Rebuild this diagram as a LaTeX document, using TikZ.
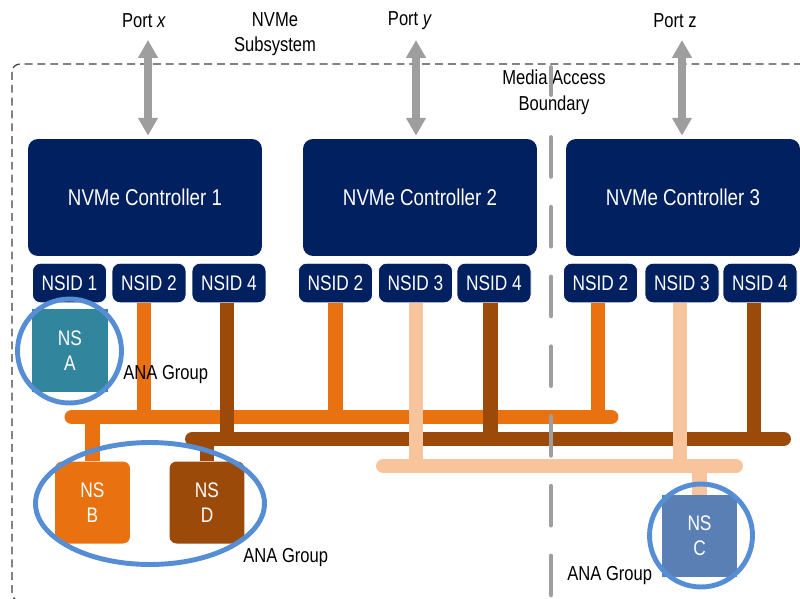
\documentclass[tikz,border=0pt]{standalone}
\usepackage{fontspec}
\setmainfont{Liberation Sans}[FakeStretch=0.82]
\usepackage{tikz}
\usetikzlibrary{arrows.meta,calc}
\definecolor{ctrlblue}{RGB}{0,32,96}
\definecolor{nsorange}{RGB}{233,113,16}
\definecolor{nsbrown}{RGB}{156,74,9}
\definecolor{nspeach}{RGB}{248,196,156}
\definecolor{nsteal}{RGB}{49,133,156}
\definecolor{nsblue}{RGB}{89,127,181}
\definecolor{ringblue}{RGB}{85,142,213}
\definecolor{portgray}{RGB}{158,158,158}
\definecolor{boxgray}{RGB}{64,64,64}

\begin{document}
\begin{tikzpicture}[x=0.02cm, y=-0.02cm,
  ctrl/.style={fill=ctrlblue, rounded corners=0.2cm, minimum width=4.68cm,
    minimum height=2.34cm, inner sep=0pt, text=white,
    font=\fontsize{13}{15}\selectfont},
  nsid/.style={fill=ctrlblue, draw=white, thin, rounded corners=0.16cm,
    minimum width=1.48cm, minimum height=0.79cm, inner sep=0pt, text=white,
    font=\fontsize{12}{14}\selectfont},
  nsbox/.style={minimum width=1.5cm, minimum height=1.64cm, inner sep=0pt,
    align=center, text=white, font=\fontsize{12}{14}\selectfont},
  lbl/.style={inner sep=0pt, align=center, font=\fontsize{11.5}{14.5}\selectfont},
  bus/.style={line width=8.5pt, line cap=round},
  drop/.style={line width=8.5pt},
  port/.style={draw=portgray, line width=4pt,
    {Triangle[width=10.8pt,length=10.2pt]}-{Triangle[width=10.8pt,length=10.2pt]}},
  ring/.style={draw=ringblue, line width=2.8pt},
  media/.style={draw=portgray, line width=2.8pt, line cap=round}]

  \useasboundingbox (0,0) rectangle (800,598);

  % ---- subsystem boundary ----
  \draw[boxgray, line width=0.7pt, dash pattern=on 4.5pt off 2.8pt,
    rounded corners=0.16cm] (12,64) rectangle (822,601);

  % ---- labels on top ----
  \node[lbl] (portx) at (144,21) {Port \textit{x}};
  \node[lbl] (porty) at (410,21) {Port \textit{y}};
  \node[lbl] (portz) at (675,21) {Port z};
  \node[lbl] (subsys) at (275,34) {NVMe\\Subsystem};
  \node[lbl] (mab) at (554,92.5) {Media Access\\Boundary};

  % ---- controllers ----
  \node[ctrl] (c1) at (145,197.5) {NVMe Controller 1};
  \node[ctrl] (c2) at (420,197.5) {NVMe Controller 2};
  \node[ctrl] (c3) at (683,197.5) {NVMe Controller 3};

  % Port arrows
  \coordinate (ax) at (148,40);
  \coordinate (ay) at (416,40);
  \coordinate (az) at (682,40);
  \draw[port, shorten >=1.7pt] (ax) -- (ax |- c1.north);
  \draw[port, shorten >=1.7pt] (ay) -- (ay |- c2.north);
  \draw[port, shorten >=1.7pt] (az) -- (az |- c3.north);

  % ---- namespace IDs ----
  \node[nsid] (c1n1) at (69.5,283) {NSID 1};
  \node[nsid] (c1n2) at (149,283) {NSID 2};
  \node[nsid] (c1n4) at (229,283) {NSID 4};
  \node[nsid] (c2n2) at (335.5,283) {NSID 2};
  \node[nsid] (c2n3) at (415.5,283) {NSID 3};
  \node[nsid] (c2n4) at (494,283) {NSID 4};
  \node[nsid] (c3n2) at (600.5,283) {NSID 2};
  \node[nsid] (c3n3) at (682,283) {NSID 3};
  \node[nsid] (c3n4) at (760,283) {NSID 4};

  % ---- namespaces ----
  \node[nsbox, fill=nsteal, minimum width=1.52cm, minimum height=1.66cm] (nsA) at (70,350.5) {NS\\A};
  \node[nsbox, fill=nsorange, rounded corners=0.14cm] (nsB) at (92.5,502.5) {NS\\B};
  \node[nsbox, fill=nsbrown, rounded corners=0.14cm] (nsD) at (207,502.5) {NS\\D};
  \node[nsbox, fill=nsblue] (nsC) at (699.5,536) {NS\\C};

  % ---- buses ----
  \coordinate (oL) at (72,417);    \coordinate (oR) at (611,417);
  \coordinate (bL) at (192.5,439); \coordinate (bR) at (783.5,439);
  \coordinate (pL) at (383.5,466); \coordinate (pR) at (735.5,466);

  % orange: NSID 2 -> NS B
  \coordinate (o1) at ($(c1n2.south)+(-5,0)$);
  \coordinate (o2) at (c2n2.south);
  \coordinate (o3) at ($(c3n2.south)+(-2.5,0)$);
  \draw[bus, nsorange] (oL) -- (oR);
  \draw[drop, nsorange] (o1) -- (o1 |- oL);
  \draw[drop, nsorange] (o2) -- (o2 |- oL);
  \draw[drop, nsorange] (o3) -- (o3 |- oL);
  \draw[drop, nsorange] (nsB.north |- oL) -- (nsB.north);

  % brown: NSID 4 -> NS D
  \coordinate (b1) at ($(c1n4.south)+(-2,0)$);
  \coordinate (b2) at ($(c2n4.south)+(-3.5,0)$);
  \coordinate (b3) at ($(c3n4.south)+(-6,0)$);
  \draw[bus, nsbrown] (bL) -- (bR);
  \draw[drop, nsbrown] (b1) -- (b1 |- bL);
  \draw[drop, nsbrown] (b2) -- (b2 |- bL);
  \draw[drop, nsbrown] (b3) -- (b3 |- bL);
  \draw[drop, nsbrown] (nsD.north |- bL) -- (nsD.north);

  % peach: NSID 3 -> NS C
  \coordinate (p1) at ($(c2n3.south)+(0.5,0)$);
  \coordinate (p2) at ($(c3n3.south)+(-2,0)$);
  \draw[bus, nspeach] (pL) -- (pR);
  \draw[drop, nspeach] (p1) -- (p1 |- pL);
  \draw[drop, nspeach] (p2) -- (p2 |- pL);
  \draw[drop, nspeach] (nsC.north |- pL) -- (nsC.north);

  % ---- ANA groups ----
  \draw[ring] (69.5,351) circle (1.04cm);
  \draw[ring] (150,503.5) ellipse (2.29cm and 1.22cm);
  \draw[ring] (701,535.5) circle (1.03cm);
  \node[lbl, anchor=west] (anaA) at (123,375) {ANA Group};
  \node[lbl, anchor=west] (anaBD) at (243,558) {ANA Group};
  \node[lbl, anchor=west] (anaC) at (567,576) {ANA Group};

  % ---- media access boundary ----
  \draw[media] (551,67.5) -- (551,94.5);
  \draw[media, dash pattern=on 22.1pt off 17.6pt] (551,137.5) -- (551,600);

\end{tikzpicture}
\end{document}
